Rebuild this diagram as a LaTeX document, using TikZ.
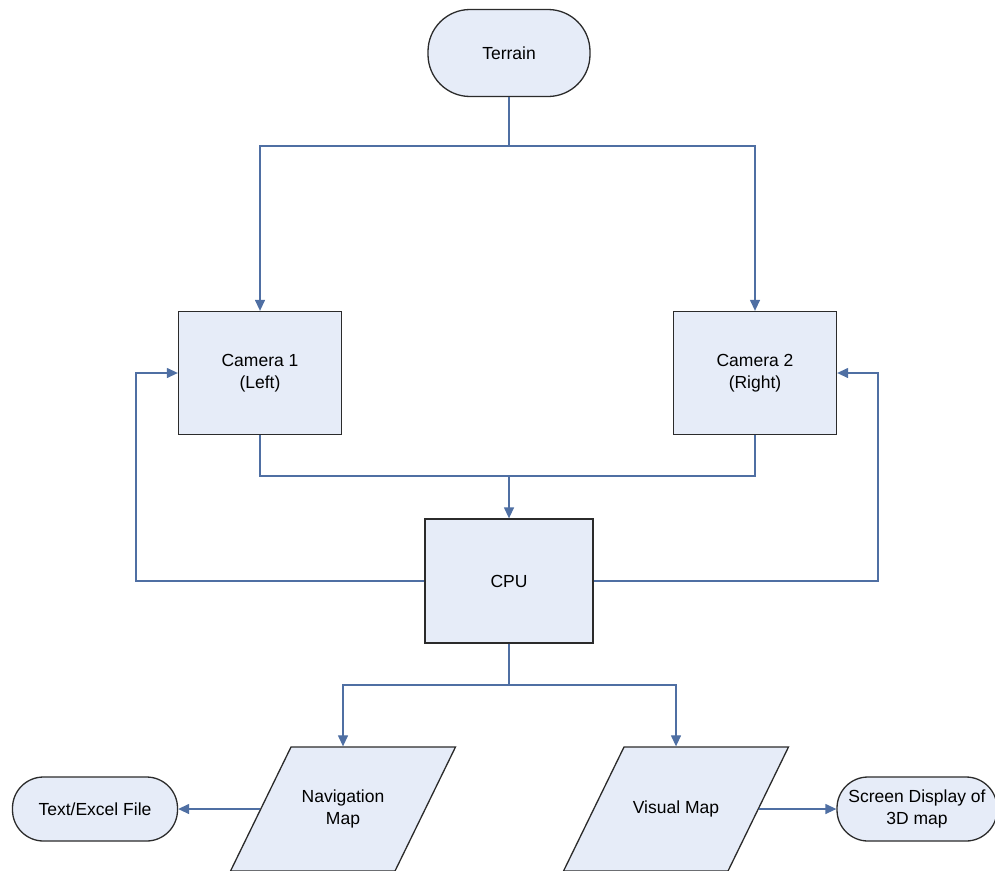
\documentclass[tikz,border=0pt]{standalone}
\usepackage{fontspec}
\setmainfont{Liberation Sans}
\usetikzlibrary{shapes.geometric,arrows.meta}
\definecolor{BoxFill}{HTML}{E6ECF8}
\definecolor{BoxEdge}{HTML}{2B2B2B}
\definecolor{FlowBlue}{HTML}{4F6FA3}

% text block of a data box, 124pt high
\newcommand{\iotext}[1]{\parbox[c][124pt][c]{104pt}{\centering #1}}

\tikzset{
  procbox/.style={draw=BoxEdge, fill=BoxFill, line width=1.3pt, align=center, inner sep=0pt},
  termbox/.style={procbox, rounded corners=#1},
  iobox/.style={procbox, trapezium, trapezium left angle=64, trapezium right angle=116},
  flowline/.style={draw=FlowBlue, line width=1.3pt},
  flowarrow/.style={flowline, -{Triangle[length=11pt,width=10pt]}}
}

\begin{document}
\begin{tikzpicture}[x=1pt,y=-1pt,font=\fontsize{17.5}{22}\selectfont]
        \useasboundingbox (0,0) rectangle (995,870);

        % boxes
        \node[termbox=42pt, minimum width=162pt, minimum height=87pt] (terrain) at (509,53) {Terrain};
        \node[procbox, minimum width=163pt, minimum height=123pt] (cam1) at (260,373) {Camera 1\\(Left)};
        \node[procbox, minimum width=163pt, minimum height=123pt] (cam2) at (755,373) {Camera 2\\(Right)};
        \node[procbox, minimum width=168pt, minimum height=124pt] (cpu) at (509,581) {CPU};
        \node[iobox] (navmap) at (343,809) {\iotext{Navigation\\Map}};
        \node[iobox] (vismap) at (676,809) {\iotext{Visual Map}};
        \node[termbox=31pt, minimum width=165pt, minimum height=64pt] (textfile) at (95,809) {Text/Excel File};
        \node[termbox=31pt, minimum width=160pt, minimum height=64pt] (screen) at (917,809) {Screen Display of\\3D map};

        % junctions
        \coordinate (camsplit) at (509,146);
        \coordinate (cpumerge) at (509,476);
        \coordinate (mapsplit) at (509,685);
        \coordinate (leftloop) at (136,581);
        \coordinate (rightloop) at (878,581);

        % connectors
        \draw[flowline] (terrain.south) -- (camsplit);
        \draw[flowarrow] (camsplit) -| (cam1.north);
        \draw[flowarrow] (camsplit) -| (cam2.north);
        \draw[flowline] (cam1.south) |- (cpumerge);
        \draw[flowline] (cam2.south) |- (cpumerge);
        \draw[flowarrow] (cpumerge) -- (cpu.north);
        \draw[flowarrow] (cpu.west) -- (leftloop) |- (cam1.west);
        \draw[flowarrow] (cpu.east) -- (rightloop) |- (cam2.east);
        \draw[flowline] (cpu.south) -- (mapsplit);
        \draw[flowarrow] (mapsplit) -| (navmap.center |- navmap.north);
        \draw[flowarrow] (mapsplit) -| (vismap.center |- vismap.north);
        \draw[flowarrow] (navmap.left side) -- (textfile.east);
        \draw[flowarrow] (vismap.right side) -- (screen.west);
      \end{tikzpicture}
\end{document}
